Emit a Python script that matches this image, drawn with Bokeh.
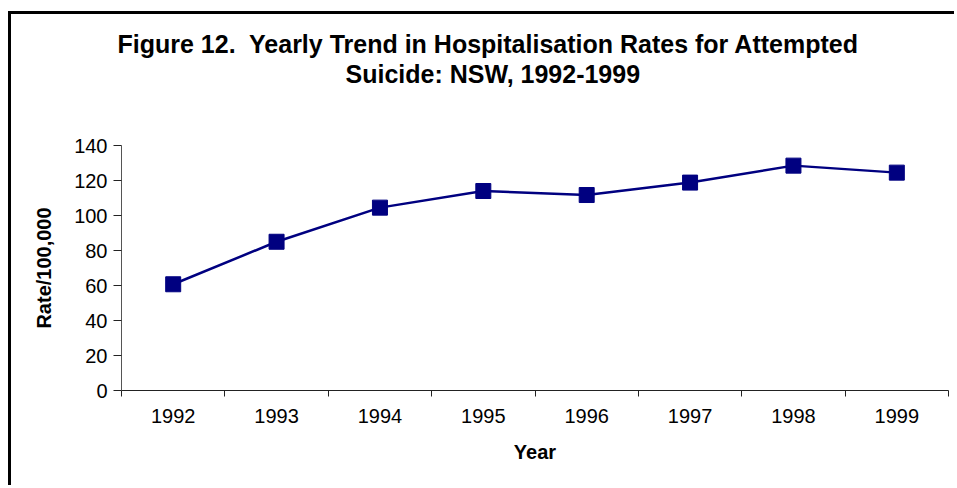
from bokeh.plotting import figure
from bokeh.models import Range1d, FixedTicker, Title
from bokeh.embed import file_html
from bokeh.resources import INLINE

# Hospitalisation rates for attempted suicide, NSW
years = [1992, 1993, 1994, 1995, 1996, 1997, 1998, 1999]
rates = [60.7, 85.0, 104.5, 114.0, 111.7, 118.8, 128.5, 124.5]
y_ticks = [0, 20, 40, 60, 80, 100, 120, 140]

title_line1 = "Figure 12.\u00a0 Yearly Trend in Hospitalisation Rates for Attempted"
title_line2 = "Suicide: NSW, 1992-1999"

FONT = "Liberation Sans"
NAVY = "#000080"

p = figure(
    width=946, height=474,
    x_range=Range1d(years[0] - 0.5, years[-1] + 0.5),
    y_range=Range1d(0, 140),
    output_backend="svg", toolbar_location=None,
    min_border_left=110, min_border_right=9,
    min_border_top=131, min_border_bottom=98,
    styles={
        "margin-left": "8px", "margin-top": "11px",
        "border-left": "3px solid black", "border-top": "3px solid black",
        "overflow": "hidden",
    },
)
p.outline_line_color = None
p.xgrid.visible = False
p.ygrid.visible = False

# series
p.line(years, rates, line_color=NAVY, line_width=2.5)
p.scatter(years, rates, marker="square", size=15, fill_color=NAVY, line_color=NAVY)

# x axis: labels at each year, ticks between the years
xa = p.xaxis[0]
xa.ticker = FixedTicker(ticks=years, minor_ticks=[y - 0.5 for y in years] + [years[-1] + 0.5])
xa.major_label_overrides = {y: str(y) for y in years}
xa.major_tick_line_color = None
xa.minor_tick_in = 0
xa.minor_tick_out = 6
xa.minor_tick_line_color = "#222222"
xa.axis_line_color = "#222222"
xa.major_label_standoff = 12
xa.axis_label = "Year"
xa.axis_label_standoff = 15

# y axis
ya = p.yaxis[0]
ya.ticker = FixedTicker(ticks=y_ticks)
ya.minor_tick_line_color = None
ya.major_tick_in = 0
ya.major_tick_out = 8
ya.major_tick_line_color = "#222222"
ya.axis_line_color = "#555555"
ya.major_label_standoff = 6
ya.axis_label = "Rate/100,000"
ya.axis_label_standoff = 16

for ax in (xa, ya):
    ax.major_label_text_font = FONT
    ax.major_label_text_font_size = "20px"
    ax.major_label_text_color = "black"
    ax.axis_label_text_font = FONT
    ax.axis_label_text_font_size = "20px"
    ax.axis_label_text_font_style = "bold"
    ax.axis_label_text_color = "black"

# two-line heading; panels stack upward from the plot frame
def heading(text, offset, standoff=0, size="25px"):
    return Title(
        text=text, align="left", offset=offset, standoff=standoff,
        text_font=FONT, text_font_size=size, text_font_style="bold",
        text_color="black",
    )

p.add_layout(heading(" ", 0, standoff=45, size="10px"), "above")  # gap above the frame
p.add_layout(heading(title_line2, 224), "above")
p.add_layout(heading(title_line1, -4), "above")

open("out.html", "w").write(file_html(p, INLINE))
